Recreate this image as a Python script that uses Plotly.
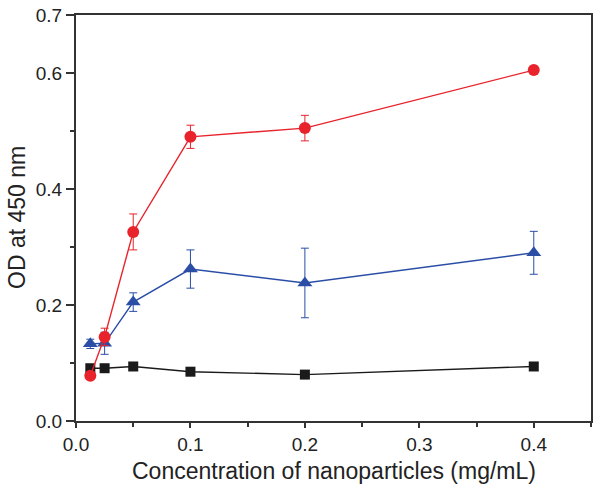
import plotly.graph_objects as go

# concentrations (mg/mL)
conc = [0.0125, 0.025, 0.05, 0.1, 0.2, 0.4]

# OD at 450 nm for each series, with error bars
od_black = [0.091, 0.091, 0.094, 0.085, 0.080, 0.094]
err_black = [0.0, 0.0, 0.0, 0.0, 0.0, 0.0]

od_red = [0.078, 0.145, 0.326, 0.490, 0.505, 0.605]
err_red = [0.004, 0.015, 0.031, 0.020, 0.022, 0.0]

od_blue = [0.133, 0.134, 0.205, 0.262, 0.238, 0.290]
err_blue = [0.008, 0.019, 0.016, 0.033, 0.060, 0.037]

x_ticks = [0.0, 0.1, 0.2, 0.3, 0.4]
x_minor = [0.05, 0.15, 0.25, 0.35, 0.45]
y_ticks = [0.0, 0.2, 0.4, 0.6, 0.7]
y_minor = [0.1, 0.3, 0.5]

fig = go.Figure()


def add_series(y, err, color, symbol, size):
    fig.add_trace(go.Scatter(
        x=conc, y=y,
        mode='lines+markers',
        line=dict(color=color, width=1.4),
        marker=dict(color=color, symbol=symbol, size=size),
        error_y=dict(type='data', array=err, visible=True,
                     color=color, thickness=1, width=4),
        showlegend=False
    ))


add_series(od_black, err_black, '#1a1a1a', 'square', 10)
add_series(od_blue, err_blue, '#2a4ea6', 'triangle-up', 13)
add_series(od_red, err_red, '#e8232b', 'circle', 12)

axis_font = dict(family='Liberation Sans, Arial, sans-serif', size=19, color='#222')
title_font = dict(family='Liberation Sans, Arial, sans-serif', size=23, color='#222')

fig.update_xaxes(
    range=[0, 0.45], tickvals=x_ticks,
    ticktext=['%.1f' % v for v in x_ticks],
    ticks='outside', ticklen=5, tickwidth=1.5, tickcolor='#333',
    minor=dict(tickvals=x_minor, ticks='outside',
               ticklen=4, tickwidth=1.5, tickcolor='#333'),
    showline=True, linecolor='#333', linewidth=2, mirror=True,
    showgrid=False, zeroline=False, tickfont=axis_font, automargin=False,
    ticklabeloverflow='allow'
)
fig.update_yaxes(
    range=[0, 0.7], tickvals=y_ticks,
    ticktext=['%.1f' % v for v in y_ticks],
    ticks='outside', ticklen=8, tickwidth=1.5, tickcolor='#333',
    minor=dict(tickvals=y_minor, ticks='outside',
               ticklen=4, tickwidth=1.5, tickcolor='#333'),
    showline=True, linecolor='#333', linewidth=2, mirror=True,
    showgrid=False, zeroline=False, tickfont=axis_font, automargin=False,
    ticklabeloverflow='allow'
)

# axis titles placed as annotations so their offsets are exact
fig.add_annotation(text='Concentration of nanoparticles (mg/mL)',
                   xref='paper', yref='paper', x=0.5, y=0,
                   xanchor='center', yanchor='middle', yshift=-50,
                   showarrow=False, font=title_font)
fig.add_annotation(text='OD at 450 nm',
                   xref='paper', yref='paper', x=0, y=0.5,
                   xanchor='center', yanchor='middle', xshift=-59,
                   textangle=-90, showarrow=False, font=title_font)

fig.update_layout(
    width=601, height=488,
    margin=dict(l=76, r=10, t=15, b=67),
    plot_bgcolor='white', paper_bgcolor='white'
)

# drop the browser's default 8px body margin so the figure sits at 0,0
fig.write_html("out.html", config={'displayModeBar': False},
               post_script="document.body.style.margin='0';")
